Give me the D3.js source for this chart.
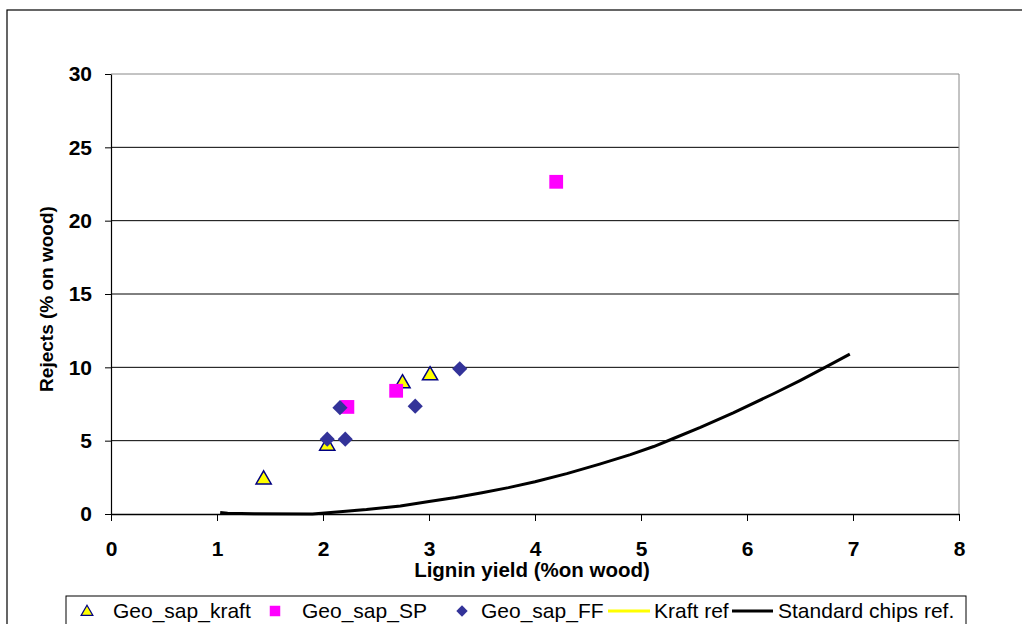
<!DOCTYPE html>
<html>
<head>
<meta charset="utf-8">
<script src="https://cdn.jsdelivr.net/npm/d3@7"></script>
<style>
  html, body { margin: 0; padding: 0; background: #fff; }
  svg { display: block; font-family: Arial, "Liberation Sans", sans-serif; }
</style>
</head>
<body>
<svg id="chart" width="1022" height="624"></svg>
<script>
// Rejects vs lignin yield for geo_sap chips
const kraftX = [1.44, 2.04, 2.75, 3.01];
const kraftY = [2.35, 4.65, 8.9, 9.45];

const spX = [2.23, 2.69, 4.2];
const spY = [7.3, 8.4, 22.65];

const ffX = [2.16, 2.04, 2.21, 2.87, 3.29];
const ffY = [7.25, 5.1, 5.1, 7.35, 9.9];

// Kraft reference has no points in range
const kraftRefX = [];
const kraftRefY = [];

// Standard chips reference curve
const stdX = [1.03, 1.1, 1.35, 1.9, 2.16, 2.41, 2.73, 3.0, 3.25, 3.5, 3.75, 4.0, 4.3, 4.61, 4.9, 5.12, 5.3, 5.56, 5.87, 6.25, 6.5, 6.75, 6.97];
const stdY = [0.1, 0.05, 0.02, 0.0, 0.16, 0.3, 0.55, 0.85, 1.12, 1.45, 1.8, 2.2, 2.75, 3.4, 4.05, 4.6, 5.13, 5.9, 6.9, 8.2, 9.1, 10.05, 10.9];

const xTicks = [0, 1, 2, 3, 4, 5, 6, 7, 8];
const yTicks = [0, 5, 10, 15, 20, 25, 30];

const legendLabels = ["Geo_sap_kraft", "Geo_sap_SP", "Geo_sap_FF", "Kraft ref", "Standard chips ref."];

const svg = d3.select("#chart");

const x = d3.scaleLinear().domain([0, 8]).range([111, 959]);
const y = d3.scaleLinear().domain([0, 30]).range([514, 74]);

// outer chart frame
svg.append("rect")
  .attr("x", 7).attr("y", 10).attr("width", 1030).attr("height", 640)
  .attr("fill", "#fff").attr("stroke", "#000").attr("stroke-width", 1.2);

// horizontal gridlines
svg.append("g")
  .selectAll("line")
  .data(yTicks.filter(d => d > 0))
  .join("line")
  .attr("x1", x(0)).attr("x2", x(8))
  .attr("y1", d => y(d)).attr("y2", d => y(d))
  .attr("stroke", d => d === 30 ? "#888" : "#000")
  .attr("stroke-width", 1);

// right border of plot area
svg.append("line")
  .attr("x1", x(8)).attr("x2", x(8))
  .attr("y1", y(30)).attr("y2", y(0))
  .attr("stroke", "#888").attr("stroke-width", 1);

// y axis
const yAxis = svg.append("g")
  .attr("transform", `translate(${x(0)},0)`)
  .call(d3.axisLeft(y).tickValues(yTicks).tickSize(6).tickPadding(13).tickSizeOuter(0));
yAxis.select(".domain").attr("stroke", "#000").attr("stroke-width", 1.2);
yAxis.selectAll(".tick line").attr("stroke", "#000");
yAxis.selectAll(".tick text")
  .attr("font-size", 21).attr("font-weight", "bold").attr("fill", "#000")
  .attr("font-family", "Arial, 'Liberation Sans', sans-serif");

// x axis
const xAxis = svg.append("g")
  .attr("transform", `translate(0,${y(0)})`)
  .call(d3.axisBottom(x).tickValues(xTicks).tickSize(7).tickPadding(20).tickSizeOuter(0));
xAxis.select(".domain").attr("stroke", "#000").attr("stroke-width", 1.5);
xAxis.selectAll(".tick line").attr("stroke", "#000");
xAxis.selectAll(".tick text")
  .attr("font-size", 21).attr("font-weight", "bold").attr("fill", "#000")
  .attr("font-family", "Arial, 'Liberation Sans', sans-serif");

// axis titles
svg.append("text")
  .attr("x", 532).attr("y", 577)
  .attr("text-anchor", "middle")
  .attr("font-size", 20.5).attr("font-weight", "bold")
  .text("Lignin yield (%on wood)");

svg.append("text")
  .attr("transform", "translate(53,299) rotate(-90)")
  .attr("text-anchor", "middle")
  .attr("font-size", 19).attr("font-weight", "bold")
  .text("Rejects (% on wood)");

// reference lines
const line = d3.line().x(d => x(d[0])).y(d => y(d[1]));

svg.append("path")
  .datum(d3.zip(kraftRefX, kraftRefY))
  .attr("d", d => d.length ? line(d) : null)
  .attr("fill", "none").attr("stroke", "#ffff00").attr("stroke-width", 3);

svg.append("path")
  .datum(d3.zip(stdX, stdY))
  .attr("d", line)
  .attr("fill", "none").attr("stroke", "#000").attr("stroke-width", 3)
  .attr("stroke-linejoin", "round");

// markers
const triangle = d3.symbol().type(d3.symbolTriangle).size(100);
const square = d3.symbol().type(d3.symbolSquare).size(190);
const diamond = d3.symbol().type(d3.symbolSquare).size(115);

svg.append("g").selectAll("path")
  .data(d3.zip(kraftX, kraftY))
  .join("path")
  .attr("d", triangle)
  .attr("transform", d => `translate(${x(d[0])},${y(d[1])})`)
  .attr("fill", "#ffff00").attr("stroke", "#000080").attr("stroke-width", 1.5);

svg.append("g").selectAll("path")
  .data(d3.zip(spX, spY))
  .join("path")
  .attr("d", square)
  .attr("transform", d => `translate(${x(d[0])},${y(d[1])})`)
  .attr("fill", "#ff00ff");

svg.append("g").selectAll("path")
  .data(d3.zip(ffX, ffY))
  .join("path")
  .attr("d", diamond)
  .attr("transform", d => `translate(${x(d[0])},${y(d[1])}) rotate(45)`)
  .attr("fill", "#333399");

// legend
const legend = svg.append("g");
legend.append("rect")
  .attr("x", 66).attr("y", 596).attr("width", 900).attr("height", 40)
  .attr("fill", "#fff").attr("stroke", "#000").attr("stroke-width", 1);

const legendTextX = [113, 302, 481, 654, 778];
const ly = 611;

legend.append("path")
  .attr("d", d3.symbol().type(d3.symbolTriangle).size(60))
  .attr("transform", `translate(87,${ly + 1})`)
  .attr("fill", "#ffff00").attr("stroke", "#000080").attr("stroke-width", 1.2);
legend.append("path")
  .attr("d", d3.symbol().type(d3.symbolSquare).size(110))
  .attr("transform", `translate(275,${ly})`)
  .attr("fill", "#ff00ff");
legend.append("path")
  .attr("d", d3.symbol().type(d3.symbolSquare).size(65))
  .attr("transform", `translate(462,${ly}) rotate(45)`)
  .attr("fill", "#333399");
legend.append("line")
  .attr("x1", 608).attr("x2", 650).attr("y1", ly).attr("y2", ly)
  .attr("stroke", "#ffff00").attr("stroke-width", 3);
legend.append("line")
  .attr("x1", 732).attr("x2", 773).attr("y1", ly).attr("y2", ly)
  .attr("stroke", "#000").attr("stroke-width", 3);

legend.selectAll("text.lbl")
  .data(legendLabels)
  .join("text")
  .attr("class", "lbl")
  .attr("x", (d, i) => legendTextX[i])
  .attr("y", ly + 7)
  .attr("font-size", 21)
  .attr("fill", "#000")
  .text(d => d);
</script>
</body>
</html>
